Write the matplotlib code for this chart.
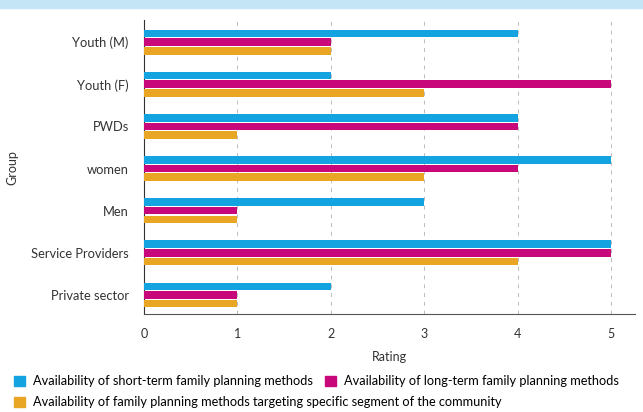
import numpy as np
import matplotlib.pyplot as plt
from matplotlib.patches import Rectangle, Patch

plt.rcParams['font.family'] = ['Lato', 'DejaVu Sans']

# Datos del gráfico
grupos = ["Youth (M)", "Youth (F)", "PWDs", "women", "Men", "Service Providers", "Private sector"]
corto_plazo = [4, 2, 4, 5, 3, 5, 2]
largo_plazo = [2, 5, 4, 4, 1, 5, 1]
segmento = [2, 3, 1, 3, 1, 4, 1]
series_labels = [
    "Availability of short-term family planning methods",
    "Availability of long-term family planning methods",
    "Availability of family planning methods targeting specific segment of the community",
]
colores = ["#13a3e0", "#c8077a", "#e9a624"]

fig = plt.figure(figsize=(6.43, 4.12), dpi=100)
ax = fig.add_axes([0.224, 0.238, 0.764, 0.713])

# Banda superior
fig.patches.append(Rectangle((0, 0.981), 1, 0.019, transform=fig.transFigure,
                             color="#c3e5f6", zorder=0))

y = np.arange(len(grupos))
alto = 0.18
paso = 0.205
for k, (vals, c) in enumerate(zip([corto_plazo, largo_plazo, segmento], colores)):
    ax.barh(y + (k - 1) * paso, vals, height=alto, color=c, zorder=3)

ax.set_xlim(0, 5.26)
ax.set_ylim(6.45, -0.52)
ax.set_yticks(y)
ax.set_yticklabels(grupos, fontsize=9.3, color="#333333")
ax.set_xticks(range(6))
ax.set_xticklabels([str(i) for i in range(6)], fontsize=9, color="#333333")
ax.tick_params(length=0, pad=11)
ax.tick_params(axis='x', pad=10)

ax.grid(True, axis='x', color='#bbbbbb', linestyle=(0, (4, 5)), linewidth=0.7, zorder=0)
for s in ['top', 'right']:
    ax.spines[s].set_visible(False)
ax.spines['left'].set_color('#333333')
ax.spines['bottom'].set_color('#555555')

ax.set_xlabel("Rating", fontsize=9, color="#333333", labelpad=8)
ax.set_ylabel("Group", fontsize=9, color="#333333")
ax.yaxis.set_label_coords(-0.255, 0.5)

h = [Patch(color=c) for c in colores]
fig.legend(h[:2], series_labels[:2], loc='upper left', bbox_to_anchor=(0.022, 0.089),
           ncol=2, frameon=False, fontsize=9.2, handlelength=0.85, handleheight=0.85,
           handletextpad=0.6, columnspacing=1.0, borderaxespad=0, borderpad=0)
fig.legend(h[2:], series_labels[2:], loc='upper left', bbox_to_anchor=(0.022, 0.038),
           frameon=False, fontsize=9.2, handlelength=0.85, handleheight=0.85,
           handletextpad=0.6, borderaxespad=0, borderpad=0)

fig.savefig("out.png", dpi=100)
